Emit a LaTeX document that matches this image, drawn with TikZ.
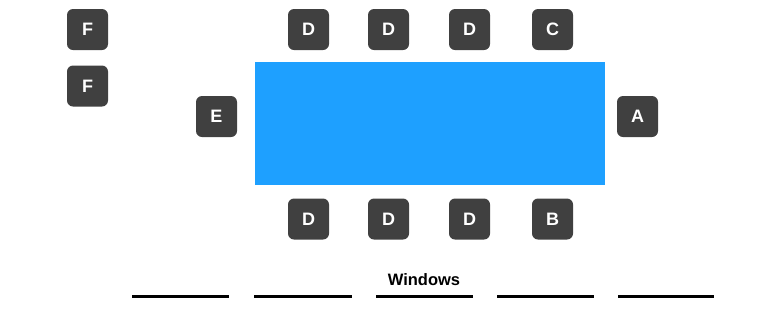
\documentclass[tikz,border=0pt]{standalone}
\usepackage{fontspec}
\setmainfont{Liberation Sans}
\definecolor{seatgray}{RGB}{64,64,64}
\definecolor{tableblue}{RGB}{30,160,255}
\tikzset{
  seat/.style={fill=seatgray, rounded corners=6pt, minimum width=41pt, minimum height=41pt, inner sep=0pt, text=white, font=\fontsize{18}{18}\selectfont\bfseries},
  windowline/.style={line width=3pt, black},
}
\begin{document}
\begin{tikzpicture}[x=1pt,y=-1pt]
\useasboundingbox (0,0) rectangle (769,309);
\fill[tableblue] (255,62) rectangle (605,185);
\node[seat] (f1) at (87.5,29.5) {F};
\node[seat] (f2) at (87.5,86) {F};
\node[seat] (e) at (216.5,116.5) {E};
\node[seat] (a) at (637.5,116.5) {A};
\node[seat] (dt1) at (308.5,29.5) {D};
\node[seat] (dt2) at (388.5,29.5) {D};
\node[seat] (dt3) at (469.5,29.5) {D};
\node[seat] (c) at (552.5,29.5) {C};
\node[seat] (db1) at (308.5,219) {D};
\node[seat] (db2) at (388.5,219) {D};
\node[seat] (db3) at (469.5,219) {D};
\node[seat] (b) at (552.5,219) {B};
\node[font=\fontsize{16.5}{16.5}\selectfont\bfseries, inner sep=0pt] (win) at (424,280) {Windows};
\draw[windowline] (132,296.5) -- (229,296.5);
\draw[windowline] (254,296.5) -- (352,296.5);
\draw[windowline] (376,296.5) -- (473,296.5);
\draw[windowline] (497,296.5) -- (594,296.5);
\draw[windowline] (618,296.5) -- (714,296.5);
\end{tikzpicture}
\end{document}
